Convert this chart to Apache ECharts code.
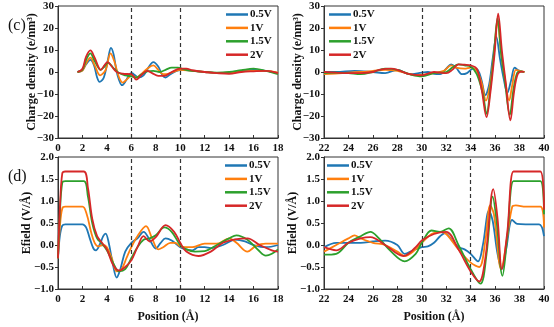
<!DOCTYPE html>
<html><head><meta charset="utf-8">
<script src="https://cdn.jsdelivr.net/npm/echarts@6/dist/echarts.min.js"></script>
<style>html,body{margin:0;padding:0;background:#fff}#c{width:554px;height:327px}</style>
</head><body><div id="c"></div>
<script>
const seriesNames = ['0.5V', '1V', '1.5V', '2V'];
const colors = ['#1f77b4', '#ff7f0e', '#2ca02c', '#d62728'];
const xTicksLeft = [0, 18, 2];
const xTicksRight = [22, 40, 2];
const chargeRange = [-30, 30, 10];
const efieldRange = [-1, 2, 0.5];
const dashedLeft = [6, 10];
const dashedRight = [30, 34];

// Charge density, left panel
const cL05 = [[1.6,0],[2.0,0.8],[2.3,3.5],[2.65,5.5],[2.95,3],[3.2,-2.5],[3.4,-4.5],[3.75,-2.5],[4.1,6],[4.33,11],[4.55,8],[4.85,-1],[5.25,-6],[5.55,-4],[5.85,-1],[6.05,-0.5],[6.3,-1.5],[6.6,-2.5],[7.0,-1.5],[7.4,2],[7.8,4.5],[8.2,2.5],[8.55,-1.5],[8.8,-2.5],[9.2,-1],[9.7,0.5],[10.2,1],[11,0.5],[12,0],[13,-0.5],[14,-0.5],[15,0.5],[16,1],[17,0.5],[18,-0.5]];
const cL1 = [[1.6,0],[2.0,0.6],[2.3,4],[2.65,6.5],[3.0,3],[3.45,-1.5],[3.9,1],[4.3,8.5],[4.6,5],[5.0,-2.5],[5.3,-4.8],[5.7,-3],[6.0,-1.5],[6.4,-2.5],[6.8,-1],[7.3,1.5],[7.8,3],[8.2,1],[8.6,-1],[9.0,-0.8],[9.5,0.2],[10,1],[11,0.5],[12,0],[13,-0.5],[14,-0.3],[15,0.3],[16,0.5],[17,0.5],[18,-0.3]];
const cL15 = [[1.6,0],[2.0,1],[2.3,5.5],[2.65,8.5],[3.0,5],[3.5,1],[3.8,2.5],[4.1,4.3],[4.5,2],[5.0,-0.5],[5.5,-1.5],[6.0,-2],[6.4,-2.5],[6.8,-1.2],[7.3,0.3],[7.8,0.5],[8.3,0],[8.8,1],[9.3,2],[9.8,2],[10.3,1.2],[11,0.5],[12,0],[13,-0.3],[14,0],[15,0.8],[16,1.5],[17,0.5],[18,-1]];
const cL2 = [[1.6,0],[2.0,1.5],[2.3,7],[2.65,9.8],[3.0,6.5],[3.5,1],[3.8,3],[4.05,4.5],[4.4,2.5],[4.8,0],[5.3,-0.8],[6.0,-1],[6.4,-3.5],[6.8,-1.5],[7.3,0.5],[7.7,-0.5],[8.2,-1.8],[8.7,-1.8],[9.3,0],[10,1.5],[10.5,1.5],[11,0.8],[12,0],[13,-0.5],[14,-0.8],[15,0],[16,0.3],[17,0.5],[18,-0.5]];

// Charge density, right panel
const cR05 = [[22,0],[23,0],[24.5,0.5],[26,0],[27,-0.5],[28,1],[29,-1],[30,-0.3],[30.5,0],[31,-0.8],[31.5,-1],[32,1.5],[32.4,3.5],[32.8,2],[33.3,-1],[33.7,-0.5],[34.2,1.5],[34.6,0.8],[34.9,-4],[35.2,-10.5],[35.5,-6],[35.8,6],[36.1,16],[36.4,6],[36.7,-3],[37.0,-9.5],[37.3,-4],[37.6,2],[37.9,0.8],[38.3,0]];
const cR1 = [[22,-1],[23.5,-0.5],[25,0],[26,0.5],[27,1],[28,0.5],[29,-1],[29.5,-1.5],[30.5,-1],[31,-0.5],[31.8,0.5],[32.4,3],[32.8,2],[33.5,1.5],[34,2],[34.5,0.5],[34.9,-5],[35.25,-13],[35.6,-5],[35.9,8],[36.2,23],[36.5,8],[36.8,-3],[37.15,-13],[37.4,-6],[37.7,1],[38,0.5],[38.4,0]];
const cR15 = [[22,-0.5],[23,-0.3],[24,-0.5],[25,-1],[26,0],[27,1.5],[28,1],[29,-1],[30,-2],[31,-0.5],[32,0],[32.5,2],[33,3.5],[33.5,3],[34,2.5],[34.5,-1],[35,-10],[35.3,-19],[35.6,-8],[35.9,8],[36.2,24.5],[36.5,8],[36.8,-4],[37.2,-19.5],[37.5,-8],[37.8,-0.5],[38.1,0.3],[38.4,0]];
const cR2 = [[22,0],[23,-0.3],[24,-0.5],[25,-0.5],[26,0],[26.5,1],[27.5,1.5],[28,1],[29,-1],[30,-1.5],[31,0],[32,-0.5],[32.5,1],[33,3.5],[33.5,3.3],[34,3],[34.5,1.5],[34.9,-8],[35.3,-20.5],[35.6,-10],[35.95,8],[36.25,26.5],[36.55,10],[36.85,-4],[37.25,-22],[37.55,-9],[37.85,-1],[38.2,0.2],[38.4,0]];

// Efield, left panel
const eL05 = [[0,-0.3],[0.15,0.2],[0.35,0.44],[0.6,0.47],[2.0,0.47],[2.3,0.4],[2.6,0.15],[2.9,-0.08],[3.1,-0.12],[3.4,0],[3.7,0.2],[3.9,0.26],[4.15,0.05],[4.5,-0.45],[4.8,-0.74],[5.1,-0.55],[5.5,-0.15],[6.0,0.05],[6.5,0.15],[7.0,0.3],[7.5,0.12],[8.0,-0.08],[8.4,0.05],[8.8,0.15],[9.3,0.1],[10,-0.05],[10.5,-0.1],[11,-0.12],[11.5,-0.05],[12,-0.05],[12.5,-0.07],[13.5,0],[14.5,0.12],[15.3,0.08],[16,0],[17,-0.05],[18,0]];
const eL1 = [[0,-0.3],[0.15,0.4],[0.35,0.83],[0.6,0.87],[2.0,0.87],[2.35,0.7],[2.7,0.3],[3.0,0.05],[3.3,-0.03],[3.7,0],[4.0,-0.05],[4.4,-0.3],[4.8,-0.6],[5.2,-0.55],[5.6,-0.3],[6.0,-0.05],[6.5,0.2],[7.2,0.43],[7.7,0.15],[8.2,-0.1],[8.6,-0.05],[9.2,0.05],[9.6,0.05],[10,-0.03],[11,-0.05],[12,0.03],[13,0.03],[14,0.15],[14.6,0.05],[15.5,-0.15],[16.2,-0.02],[17,0.03],[18,0.03]];
const eL15 = [[0,-0.3],[0.15,0.7],[0.35,1.42],[0.6,1.45],[2.1,1.45],[2.45,1.1],[2.8,0.5],[3.2,0.15],[3.6,0.03],[4.0,-0.12],[4.5,-0.4],[5.0,-0.6],[5.5,-0.55],[6.0,-0.3],[6.5,-0.05],[7.0,0.12],[7.5,0.15],[8.0,0.22],[8.7,0.4],[9.3,0.3],[10,0],[10.5,-0.1],[11.2,-0.15],[12,-0.14],[13,0],[14,0.15],[14.6,0.22],[15.5,0.12],[16.4,-0.12],[17,-0.24],[17.5,-0.2],[18,-0.1]];
const eL2 = [[0,-0.3],[0.15,0.8],[0.35,1.63],[0.6,1.67],[2.1,1.67],[2.45,1.3],[2.8,0.6],[3.2,0.2],[3.6,0.05],[4.0,-0.1],[4.5,-0.45],[5.0,-0.58],[5.5,-0.5],[6.0,-0.35],[6.5,-0.05],[7.0,0.2],[7.5,0.08],[8.0,0.18],[8.8,0.45],[9.5,0.3],[10,0.05],[10.5,-0.15],[11.5,-0.25],[12.5,-0.15],[13.5,0.05],[14.5,0.13],[15.5,0.15],[16.5,0],[17.5,-0.12],[18,-0.15]];

// Efield, right panel
const eR05 = [[22,-0.05],[23,0.05],[24,0.05],[25,0.05],[26,0.08],[27,0.1],[28,0],[28.6,-0.2],[29.3,-0.12],[30,-0.05],[30.5,-0.03],[31,0.05],[31.5,0.2],[31.9,0.27],[32.5,0.1],[33,-0.05],[33.5,-0.1],[34,-0.2],[34.6,-0.37],[35.0,0],[35.5,0.78],[35.8,0.55],[36.2,-0.2],[36.55,-0.55],[36.9,-0.1],[37.4,0.57],[37.8,0.48],[38.5,0.47],[39.6,0.47],[40,0.2]];
const eR1 = [[22,-0.15],[23,0],[24,0.15],[24.5,0.22],[25,0.15],[26,0.05],[27,0],[28,-0.15],[28.6,-0.25],[29.5,-0.1],[30,0.05],[30.8,0.25],[31.5,0.3],[32,0.25],[33,-0.1],[34,-0.4],[34.7,-0.5],[35.2,0.1],[35.6,0.9],[35.9,0.7],[36.5,-0.55],[37,0.2],[37.4,0.87],[37.7,0.9],[38.5,0.87],[39.7,0.87],[40,0.4]];
const eR15 = [[22,-0.22],[23,-0.2],[24,0.05],[25,0.2],[25.8,0.3],[26.5,0.15],[27.5,-0.15],[28.6,-0.37],[29.5,-0.2],[30,0.05],[30.8,0.33],[31.5,0.3],[32.2,0.38],[33,0],[34,-0.55],[34.8,-0.88],[35.3,-0.2],[35.8,1.1],[36.1,0.6],[36.6,-0.7],[37,0.2],[37.5,1.45],[38,1.45],[39.7,1.45],[40,0.7]];
const eR2 = [[22,-0.05],[23,-0.12],[24,0.05],[25,0.15],[25.8,0.18],[27,0],[28.5,-0.25],[29.5,-0.05],[30,0.1],[31,0.25],[32,0.3],[33,-0.1],[34,-0.6],[34.7,-0.83],[35.2,-0.3],[35.85,1.27],[36.2,0.6],[36.55,-0.55],[37,0.3],[37.5,1.67],[38,1.67],[39.7,1.67],[40,0.8]];

const panels = [
  {data: [cL05, cL1, cL15, cL2], x: xTicksLeft, y: chargeRange, dashed: dashedLeft, yName: 'Charge density (e/nm³)', xName: '', dec: 0},
  {data: [cR05, cR1, cR15, cR2], x: xTicksRight, y: chargeRange, dashed: dashedRight, yName: 'Charge density (e/nm³)', xName: '', dec: 0},
  {data: [eL05, eL1, eL15, eL2], x: xTicksLeft, y: efieldRange, dashed: dashedLeft, yName: 'Efield (V/Å)', xName: 'Position (Å)', dec: 1},
  {data: [eR05, eR1, eR15, eR2], x: xTicksRight, y: efieldRange, dashed: dashedRight, yName: 'Efield (V/Å)', xName: 'Position (Å)', dec: 1}
];

const FONT = 'Liberation Serif';
const gridPos = [
  {left: 58, top: 6}, {left: 324, top: 6}, {left: 58, top: 157}, {left: 324, top: 157}
];
const legendPos = [
  {left: 226, top: 9}, {left: 329, top: 9}, {left: 225, top: 160}, {left: 327, top: 160}
];

const grids = [], xAxes = [], yAxes = [], series = [], legends = [];
panels.forEach((p, i) => {
  grids.push({left: gridPos[i].left, top: gridPos[i].top, width: 220, height: 132,
    show: true, borderColor: '#333', borderWidth: 1, backgroundColor: 'transparent'});
  xAxes.push({type: 'value', gridIndex: i, min: p.x[0], max: p.x[1], interval: p.x[2],
    name: p.xName, nameLocation: 'middle', nameGap: 22, nameMoveOverlap: false,
    nameTextStyle: {fontFamily: FONT, fontWeight: 'bold', fontSize: 12, color: '#111'},
    axisLine: {show: true, onZero: false, lineStyle: {color: '#333', width: 1}},
    axisTick: {show: true, inside: true, length: 3, lineStyle: {color: '#333'}},
    axisLabel: {fontFamily: FONT, fontWeight: 'bold', fontSize: 11, color: '#111', margin: 5},
    splitLine: {show: false}});
  yAxes.push({type: 'value', gridIndex: i, min: p.y[0], max: p.y[1], interval: p.y[2],
    name: p.yName, nameLocation: 'middle', nameGap: p.dec ? 25 : 20, nameMoveOverlap: false,
    nameTextStyle: {fontFamily: FONT, fontWeight: 'bold', fontSize: 12, color: '#111'},
    axisLine: {show: true, onZero: false, lineStyle: {color: '#333', width: 1}},
    axisTick: {show: true, inside: false, length: 3, lineStyle: {color: '#333'}},
    axisLabel: {fontFamily: FONT, fontWeight: 'bold', fontSize: 11, color: '#111', margin: 4,
      formatter: v => v.toFixed(p.dec).replace('-', '−')},
    splitLine: {show: false}});
  p.data.forEach((d, k) => {
    const s = {name: seriesNames[k], type: 'line', xAxisIndex: i, yAxisIndex: i, data: d,
      smooth: 0.35, showSymbol: false, symbol: 'none', animation: false,
      lineStyle: {width: 1.8, color: colors[k]}, itemStyle: {color: colors[k]}, z: 3 + k};
    if (k === 0) {
      s.markLine = {silent: true, symbol: 'none', label: {show: false}, animation: false,
        lineStyle: {type: [4, 3], color: '#333', width: 1.2},
        data: p.dashed.map(v => ({xAxis: v}))};
    }
    series.push(s);
  });
  legends.push({left: legendPos[i].left, top: legendPos[i].top, orient: 'vertical',
    data: seriesNames, icon: 'rect', itemWidth: 22, itemHeight: 2.5, itemGap: 2.4,
    textStyle: {fontFamily: FONT, fontWeight: 'bold', fontSize: 11, color: '#111', padding: [0, 0, 0, -3]},
    padding: 0, selectedMode: false});
});

const chart = echarts.init(document.getElementById('c'), null, {renderer: 'canvas'});
chart.setOption({
  animation: false,
  backgroundColor: '#fff',
  title: [
    {text: '(c)', left: 3, top: 13, textStyle: {fontFamily: FONT, fontWeight: 'normal', fontSize: 16, color: '#111'}},
    {text: '(d)', left: 3, top: 164, textStyle: {fontFamily: FONT, fontWeight: 'normal', fontSize: 16, color: '#111'}}
  ],
  grid: grids, xAxis: xAxes, yAxis: yAxes, series: series, legend: legends
});
</script></body></html>
